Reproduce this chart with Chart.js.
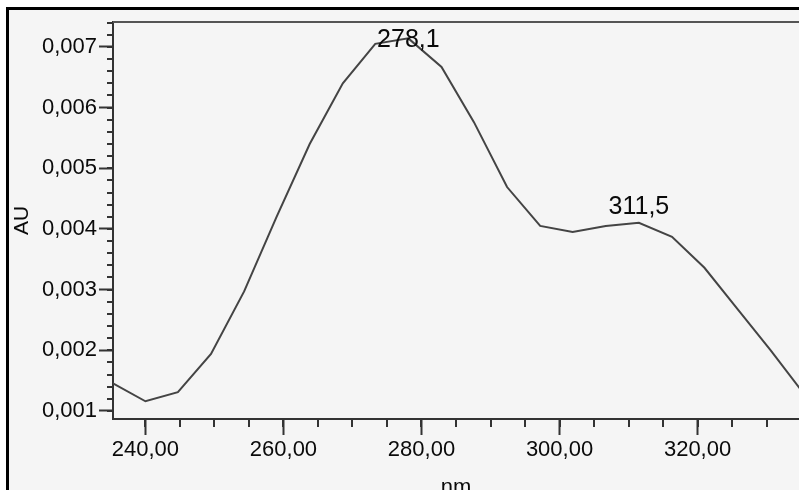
<!DOCTYPE html>
<html>
<head>
<meta charset="utf-8">
<script src="https://cdn.jsdelivr.net/npm/chart.js@4.4.0/dist/chart.umd.min.js"></script>
<style>
  html, body { margin:0; padding:0; background:#fff; overflow:hidden; }
  #frame { position:absolute; left:6px; top:7px; width:800px; height:490px; border-left:3px solid #000; border-top:3px solid #000; background:#f5f5f5; }
  #wrap { position:absolute; left:0; top:0; width:799px; height:490px; }
</style>
</head>
<body>
<div id="frame"></div>
<div id="wrap"><canvas id="chart"></canvas></div>
<script>
// spectrum (nm, AU)
const wavelengths = [235.2, 240.0, 244.7, 249.5, 254.3, 259.0, 263.8, 268.6, 273.3, 278.1, 282.9,
                     287.6, 292.4, 297.2, 301.9, 306.7, 311.5, 316.3, 321.0, 325.8, 330.6, 335.3]
const absorbance = [0.00146, 0.00116, 0.00131, 0.00194, 0.00297, 0.00420, 0.00540, 0.00640, 0.00705, 0.00714, 0.00667,
                    0.00576, 0.00469, 0.00405, 0.00395, 0.00405, 0.00410, 0.00387, 0.00336, 0.00268, 0.00200, 0.00130]
const peaks = [278.1, 311.5]
const xTicks = [240, 260, 280, 300, 320]
const yTicks = [0.001, 0.002, 0.003, 0.004, 0.005, 0.006, 0.007]

const FONT = 'Liberation Sans, Arial, sans-serif'
const INK = '#0a0a0a'
const AXIS = '#333'

const extras = {
    id: 'extras',
    afterDraw(chart) {
        const ctx = chart.ctx
        const area = chart.chartArea
        const xs = chart.scales.x
        const ys = chart.scales.y
        ctx.save()
        // top frame line
        ctx.strokeStyle = '#555'
        ctx.lineWidth = 2
        ctx.beginPath()
        ctx.moveTo(area.left, area.top)
        ctx.lineTo(area.right, area.top)
        ctx.stroke()

        // minor ticks
        ctx.strokeStyle = AXIS
        ctx.lineWidth = 2
        ctx.beginPath()
        for (let v = 0.0008; v <= ys.max + 1e-9; v += 0.0002) {
            if (v < ys.min) continue
            const y = Math.round(ys.getPixelForValue(v))
            ctx.moveTo(area.left - 6, y)
            ctx.lineTo(area.left, y)
        }
        for (let v = 235; v <= xs.max; v += 5) {
            if (v < xs.min) continue
            const x = Math.round(xs.getPixelForValue(v))
            ctx.moveTo(x, area.bottom)
            ctx.lineTo(x, area.bottom + 8)
        }
        ctx.stroke()

        // peak labels
        ctx.fillStyle = INK
        ctx.font = '25px ' + FONT
        ctx.textAlign = 'center'
        ctx.textBaseline = 'alphabetic'
        peaks.forEach(p => {
            const i = wavelengths.indexOf(p)
            const x = xs.getPixelForValue(p)
            const y = ys.getPixelForValue(absorbance[i])
            const base = Math.max(y - 9, area.top + 25)
            ctx.fillText(p.toFixed(1).replace('.', ','), x, base)
        })
        ctx.restore()
    }
}

new Chart(document.getElementById('chart'), {
    type: 'line',
    data: {
        datasets: [{
            data: wavelengths.map((w, i) => ({x: w, y: absorbance[i]})),
            borderColor: '#444',
            borderWidth: 2,
            pointRadius: 0,
            tension: 0,
            fill: false
        }]
    },
    options: {
        responsive: true,
        maintainAspectRatio: false,
        animation: false,
        layout: {padding: {top: 22, left: 0, right: 0, bottom: 0}},
        plugins: {legend: {display: false}, tooltip: {enabled: false}},
        scales: {
            x: {
                type: 'linear',
                min: 235.3,
                max: 334.7,
                afterBuildTicks: s => { s.ticks = xTicks.map(v => ({value: v})) },
                afterFit: s => { s.height = 71 },
                ticks: {
                    callback: v => v.toFixed(2).replace('.', ','),
                    autoSkip: false, maxRotation: 0, padding: 2,
                    color: INK, font: {family: FONT, size: 22}
                },
                grid: {drawOnChartArea: false, tickLength: 16, tickWidth: 2, tickColor: AXIS},
                border: {color: AXIS, width: 2},
                title: {display: true, text: 'nm', color: INK, font: {family: FONT, size: 22}, padding: {top: 0, bottom: -11}}
            },
            y: {
                type: 'linear',
                min: 0.000868,
                max: 0.00741,
                afterBuildTicks: s => { s.ticks = yTicks.map(v => ({value: v})) },
                afterFit: s => { s.width = 113 },
                ticks: {
                    callback: v => v.toFixed(3).replace('.', ','),
                    autoSkip: false, padding: 2,
                    color: INK, font: {family: FONT, size: 22}
                },
                grid: {drawOnChartArea: false, tickLength: 14, tickWidth: 2, tickColor: AXIS},
                border: {color: AXIS, width: 2},
                title: {display: true, text: 'AU', color: INK, font: {family: FONT, size: 21}, padding: {top: 10, bottom: 0}}
            }
        }
    },
    plugins: [extras]
})
</script>
</body>
</html>
